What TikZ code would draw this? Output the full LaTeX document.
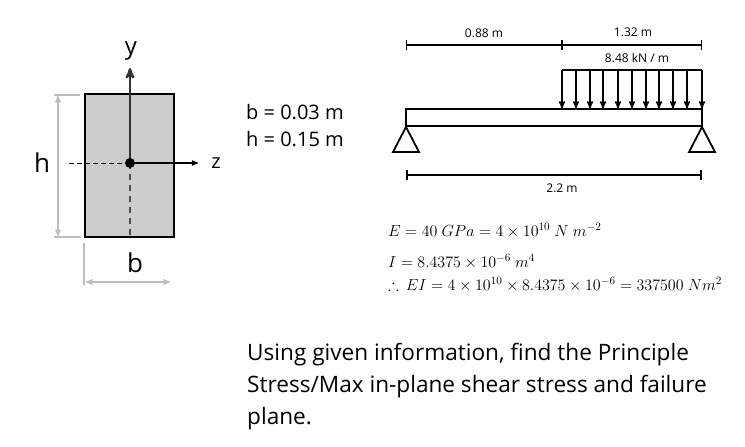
\RequirePackage{fix-cm}
\documentclass[tikz,border=0pt]{standalone}
\usepackage{amsmath}
\usepackage{amssymb}
\usepackage{fontspec}
\setmainfont{Open Sans}
\usetikzlibrary{arrows, positioning, calc}
\definecolor{secgray}{HTML}{CCCCCC}
\definecolor{dimgray}{HTML}{BDBDBD}
\tikzset{
    label_big/.style = {inner sep=0pt, font=\fontsize{24}{24}\selectfont},
    label_mid/.style = {inner sep=0pt, font=\fontsize{20}{24}\selectfont},
    label_small/.style = {inner sep=0pt, font=\fontsize{12}{14}\selectfont},
    eqn/.style = {inner sep=0pt, anchor=base west, font=\fontsize{16}{18}\selectfont},
    section_box/.style = {draw=black, line width=1.4pt, fill=secgray, inner sep=0pt,
        minimum width=89pt, minimum height=143pt},
    axis_line/.style = {-stealth', black, line width=1.2pt},
    axis_dash/.style = {black, dashed, line width=1pt},
    dim_gray/.style = {dimgray, line width=1.3pt},
    dim_black/.style = {|-|, black, line width=1.3pt},
    load_line/.style = {-stealth', black, line width=1.5pt},
    beam_box/.style = {draw=black, line width=1.7pt, inner sep=0pt,
        minimum width=296pt, minimum height=17pt},
    support/.style = {draw=black, line width=1.8pt, line join=miter},
}
\begin{document}
\begin{tikzpicture}[x=1pt,y=-1pt]
    \useasboundingbox (0,0) rectangle (745,447);
    % cross section
    \node (sec) [section_box] at (129.5,165.5) {};
    \coordinate (o) at (130,163);
    \coordinate (ytip) at (130,68);
    \coordinate (ztip) at (198,163);
    \coordinate (wleft) at (68,163);
    \coordinate (wdown) at (130,238);
    \draw [axis_dash, dash pattern=on 5pt off 3pt] (o) -- (wleft);
    \draw [axis_dash, line width=2.8pt, gray!60!black, dash pattern=on 6pt off 5pt] (o) -- (wdown);
    \draw [axis_line, line width=2.4pt, gray!40!black] (o) -- (ytip);
    \draw [axis_line] (o) -- (ztip);
    \node (odot) [circle, fill=black, inner sep=0pt, minimum size=10pt] at (o) {};
    \node (ylab) [label_big] at (131,51) {y};
    \node (zlab) [label_big, font=\fontsize{20}{20}\selectfont] at (216,163) {z};
    \node (hlab) [label_big, font=\fontsize{26}{26}\selectfont] at (42,163) {h};
    \node (blab) [label_big, font=\fontsize{26}{26}\selectfont] at (135,263) {b};
    % gray dimensions
    \coordinate (ht) at (58,96);
    \coordinate (hb) at (58,236);
    \coordinate (bl) at (86,282);
    \coordinate (br) at (170,282);
    \draw [dim_gray, stealth'-stealth'] (ht) -- (hb);
    \draw [dim_gray, stealth'-stealth'] (bl) -- (br);
    \draw [dim_gray] (54,95) -- (80,95);
    \draw [dim_gray] (54,237) -- (81,237);
    \draw [dim_gray] (84,243) -- (84,285);
    \node (bval) [label_mid, anchor=west] at (246,112) {b = 0.03 m};
    \node (hval) [label_mid, anchor=west] at (246,139) {h = 0.15 m};
    % beam
    \node (beam) [beam_box] at (554,117.5) {};
    \coordinate (ll) at (562,70);
    \coordinate (lr) at (702,70);
    \foreach \x in {562,576,590,603,618,632,646,659,673,687,702}
        \draw [load_line] (\x,70) -- (\x,108.5);
    \draw [black, line width=1.5pt] (ll) -- (lr);
    \draw [support] (406,127) -- (419,152) -- (393,152) -- cycle;
    \draw [support] (702,127) -- (715,152) -- (689,152) -- cycle;
    % spans
    \coordinate (d0) at (406,45);
    \coordinate (d1) at (562,45);
    \coordinate (d2) at (702,45);
    \coordinate (d3) at (406,175);
    \coordinate (d4) at (702,175);
    \draw [dim_black] (d0) -- (d1);
    \draw [dim_black] (d1) -- (d2);
    \draw [dim_black, line width=1.7pt] (d3) -- (d4);
    \node (spana) [label_small] at (484,33) {0.88 m};
    \node (spanb) [label_small] at (633,32) {1.32 m};
    \node (qval) [label_small] at (637,58) {8.48 kN / m};
    \node (span) [label_small] at (562,188) {2.2 m};
    % section values
    \node (eqe) [eqn] at (388,236) {$E = 40\ GPa = 4\times 10^{10}\ N\ m^{-2}$};
    \node (eqi) [eqn] at (388,267) {$I = 8.4375\times 10^{-6}\ m^{4}$};
    \node (eqei) [eqn] at (388,290) {$\therefore\, EI = 4\times 10^{10}\times 8.4375\times 10^{-6} = 337500\ Nm^{2}$};
    % question
    \node (quest) [inner sep=0pt, anchor=north west, align=left,
        font=\fontsize{22.6}{32}\selectfont] at (247,343)
        {Using given information, find the Principle\\
         Stress/Max in-plane shear stress and failure\\
         plane.};
\end{tikzpicture}
\end{document}
